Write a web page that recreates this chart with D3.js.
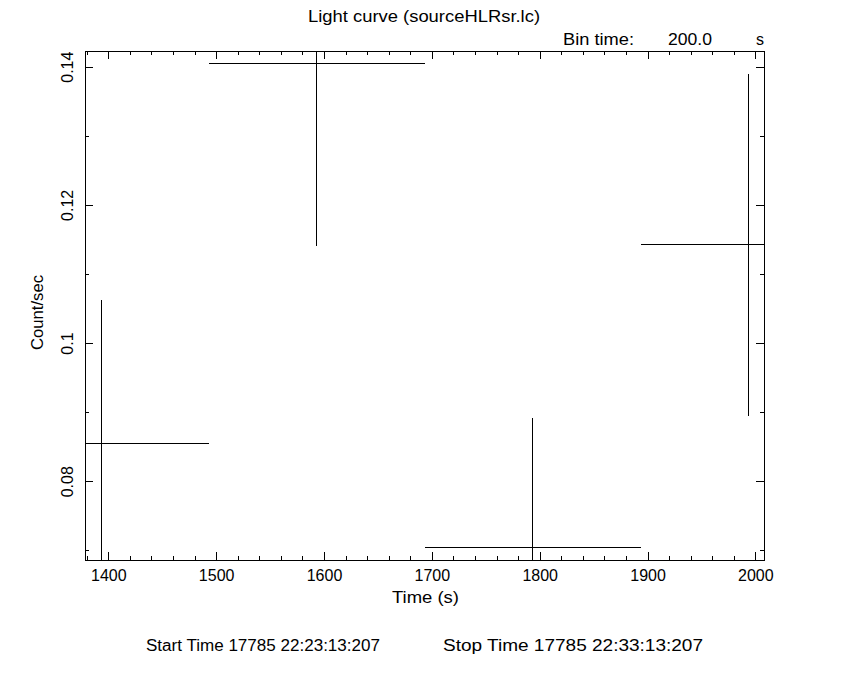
<!DOCTYPE html>
<html>
<head>
<meta charset="utf-8">
<script src="https://cdn.jsdelivr.net/npm/d3@7"></script>
<style>
  body { margin: 0; background: #fff; }
  text { font-family: "DejaVu Sans ExtraLight", "Liberation Sans", sans-serif; font-weight: 200; fill: #000; }
</style>
</head>
<body>
<svg id="svg1" width="850" height="680"></svg>
<script>
// light curve bins (centre time in s, rate, error)
var binTime = [1393.5, 1593.5, 1793.5, 1993.5];
var rate = [0.0854, 0.1405, 0.0704, 0.1142];
var rateErr = [0.0209, 0.0264, 0.0188, 0.0247];
var halfBin = 100;

var xMajor = [1400, 1500, 1600, 1700, 1800, 1900, 2000];
var yMajor = [0.08, 0.1, 0.12, 0.14];
var yMajorLabels = ["0.08", "0.1", "0.12", "0.14"];

var svg = d3.select("#svg1");
// note: "top" is taken by window.top, so use other names
var pLeft = 85, pRight = 764, pTop = 51, pBottom = 560;

var x = d3.scaleLinear().domain([1378.4, 2008.0]).range([pLeft, pRight]);
var y = d3.scaleLinear().domain([0.06861, 0.14227]).range([pBottom, pTop]);

var xMinor = d3.range(1380, 2008, 20).filter(function(d) { return d % 100 != 0; });
var yMinor = [0.07, 0.09, 0.11, 0.13];

// clip for the error bars
svg.append("clipPath").attr("id", "clip")
  .append("rect").attr("x", pLeft).attr("y", pTop)
  .attr("width", pRight - pLeft).attr("height", pBottom - pTop);

function addAxis(ax, tr, size, vals, fmt) {
  var g = svg.append("g").attr("transform", tr)
    .call(ax.tickValues(vals).tickSize(size).tickFormat(fmt));
  g.select(".domain").remove();
  g.selectAll("line").attr("stroke", "#000").attr("shape-rendering", "crispEdges");
  return g;
}
var none = function() { return ""; };

// bottom
var gb = addAxis(d3.axisBottom(x), "translate(0," + pBottom + ")", -8, xMajor, d3.format("d"));
gb.selectAll("text").attr("font-size", "16px").attr("font-family", null).attr("dy", "0").attr("y", 21);
addAxis(d3.axisBottom(x), "translate(0," + pBottom + ")", -4, xMinor, none);
// top
addAxis(d3.axisTop(x), "translate(0," + pTop + ")", -8, xMajor, none);
addAxis(d3.axisTop(x), "translate(0," + pTop + ")", -4, xMinor, none);
// left
var gl = addAxis(d3.axisLeft(y), "translate(" + pLeft + ",0)", -8, yMajor, function(d, i) { return yMajorLabels[i]; });
gl.selectAll("text").attr("font-size", "16px").attr("font-family", null)
  .attr("text-anchor", "middle").attr("x", 0).attr("dy", "0")
  .attr("transform", "translate(-12,0) rotate(-90)");
addAxis(d3.axisLeft(y), "translate(" + pLeft + ",0)", -4, yMinor, none);
// right
addAxis(d3.axisRight(y), "translate(" + pRight + ",0)", -8, yMajor, none);
addAxis(d3.axisRight(y), "translate(" + pRight + ",0)", -4, yMinor, none);

// frame
svg.append("rect").attr("x", pLeft).attr("y", pTop)
  .attr("width", pRight - pLeft).attr("height", pBottom - pTop)
  .attr("fill", "none").attr("stroke", "#000").attr("shape-rendering", "crispEdges");

// data
var pts = svg.append("g").attr("clip-path", "url(#clip)");
binTime.forEach(function(t, i) {
  pts.append("line")
    .attr("x1", x(t - halfBin)).attr("x2", x(t + halfBin))
    .attr("y1", y(rate[i])).attr("y2", y(rate[i]))
    .attr("stroke", "#000").attr("shape-rendering", "crispEdges");
  pts.append("line")
    .attr("x1", x(t)).attr("x2", x(t))
    .attr("y1", y(rate[i] - rateErr[i])).attr("y2", y(rate[i] + rateErr[i]))
    .attr("stroke", "#000").attr("shape-rendering", "crispEdges");
});

// labels
svg.append("text").text("Light curve (sourceHLRsr.lc)")
  .attr("x", 308).attr("y", 22).attr("font-size", "16px")
  .attr("textLength", 232).attr("lengthAdjust", "spacingAndGlyphs");
svg.append("text").text("Bin time:").attr("x", 563).attr("y", 45)
  .attr("font-size", "16px").attr("textLength", 71).attr("lengthAdjust", "spacingAndGlyphs");
svg.append("text").text("200.0").attr("x", 668).attr("y", 45)
  .attr("font-size", "16px").attr("textLength", 44).attr("lengthAdjust", "spacingAndGlyphs");
svg.append("text").text("s").attr("x", 756).attr("y", 45).attr("font-size", "16px");

svg.append("text").text("Time (s)").attr("x", 392).attr("y", 603)
  .attr("font-size", "16px").attr("textLength", 67).attr("lengthAdjust", "spacingAndGlyphs");
svg.append("text").text("Count/sec")
  .attr("transform", "translate(43,350) rotate(-90)")
  .attr("font-size", "16px").attr("textLength", 75).attr("lengthAdjust", "spacingAndGlyphs");

svg.append("text").text("Start Time 17785 22:23:13:207").attr("x", 146).attr("y", 651)
  .attr("font-size", "16px").attr("textLength", 234).attr("lengthAdjust", "spacingAndGlyphs");
svg.append("text").text("Stop Time 17785 22:33:13:207").attr("x", 443).attr("y", 651)
  .attr("font-size", "16px").attr("textLength", 260).attr("lengthAdjust", "spacingAndGlyphs");
</script>
</body>
</html>
